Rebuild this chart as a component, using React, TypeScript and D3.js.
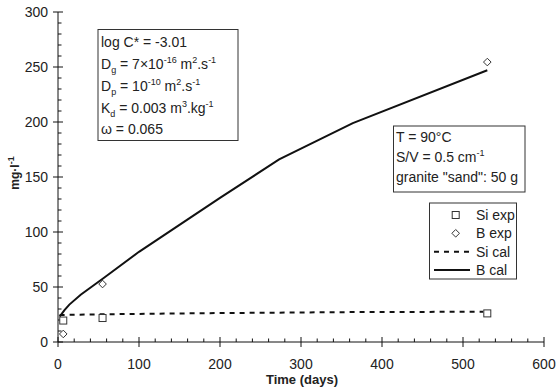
import React from "react";
import * as d3 from "d3";

const xTicks = [0, 100, 200, 300, 400, 500, 600];
const yTicks = [0, 50, 100, 150, 200, 250, 300];

const siExpX = [6.5, 55, 530];
const siExpY = [19.5, 21.8, 26];
const bExpX = [6.5, 55, 530];
const bExpY = [7.3, 52.7, 254.5];

const siCalX = [2, 56, 182, 364, 525];
const siCalY = [24.5, 25.2, 26.2, 27.2, 27.5];
const bCalX = [2, 8, 14, 28, 56, 100, 200, 273, 364, 530];
const bCalY = [23, 29, 34, 43, 58, 82, 131, 166, 199, 247];

const legendLabels = ["Si exp", "B exp", "Si cal", "B cal"];

const W = 556, H = 388;
const FONT = "'Liberation Sans', Arial, sans-serif";

export default function App() {
  const x = d3.scaleLinear().domain([0, 600]).range([58, 544]);
  const y = d3.scaleLinear().domain([0, 300]).range([342, 12]);
  const line = d3.line<[number, number]>().x(d => x(d[0])).y(d => y(d[1]));
  const xMinor = d3.range(0, 601, 20).filter(v => v % 100 !== 0);
  const yMinor = d3.range(0, 301, 10).filter(v => v % 50 !== 0);
  const bCal = bCalX.map((v, i) => [v, bCalY[i]] as [number, number]);
  const siCal = siCalX.map((v, i) => [v, siCalY[i]] as [number, number]);
  const txt = "#222";
  const square = (cx: number, cy: number, k: string) => (
    <rect key={k} x={cx - 3.5} y={cy - 3.5} width={7} height={7} fill="white" stroke="#333" strokeWidth={1} />
  );
  const diamond = (cx: number, cy: number, k: string) => (
    <path key={k} d={`M${cx},${cy - 3.8}L${cx + 3.8},${cy}L${cx},${cy + 3.8}L${cx - 3.8},${cy}Z`} fill="white" stroke="#333" strokeWidth={1} />
  );
  const sup = { fontSize: 9 } as const;
  return (
    <svg width={W} height={H} style={{ position: "absolute", left: 0, top: 0, background: "white" }} fontFamily={FONT}>
      <rect width={W} height={H} fill="white" />
      {/* axes */}
      <line x1={x(0)} x2={x(600)} y1={y(0)} y2={y(0)} stroke="#111" strokeWidth={1} />
      <line x1={x(0)} x2={x(0)} y1={y(0)} y2={y(300)} stroke="#111" strokeWidth={1} />
      {xTicks.map(t => (
        <g key={"xt" + t}>
          <line x1={x(t)} x2={x(t)} y1={y(0) - 5} y2={y(0) + 5} stroke="#111" />
          <text x={x(t)} y={y(0) + 27} textAnchor="middle" fontSize={14} fill={txt}>{t}</text>
        </g>
      ))}
      {xMinor.map(t => (
        <line key={"xm" + t} x1={x(t)} x2={x(t)} y1={y(0) - 3.5} y2={y(0)} stroke="#111" />
      ))}
      {yTicks.map(t => (
        <g key={"yt" + t}>
          <line x1={x(0) - 5} x2={x(0) + 5} y1={y(t)} y2={y(t)} stroke="#111" />
          <text x={48} y={y(t) + 5} textAnchor="end" fontSize={14} fill={txt}>{t}</text>
        </g>
      ))}
      {yMinor.map(t => (
        <line key={"ym" + t} x1={x(0)} x2={x(0) + 3.5} y1={y(t)} y2={y(t)} stroke="#111" />
      ))}
      <text x={302} y={384} textAnchor="middle" fontSize={13} fontWeight="bold" fill={txt}>Time (days)</text>
      <text transform={`translate(19,173) rotate(-90)`} textAnchor="middle" fontSize={12} fontWeight="bold" fill={txt}>
        mg·l<tspan dy={-5} style={sup}>-1</tspan>
      </text>

      {/* lines */}
      <path d={line(siCal) || ""} fill="none" stroke="#111" strokeWidth={2} strokeDasharray="5,5" />
      <path d={line(bCal) || ""} fill="none" stroke="#111" strokeWidth={2} />
      {siExpX.map((v, i) => square(x(v), y(siExpY[i]), "s" + i))}
      {bExpX.map((v, i) => diamond(x(v), y(bExpY[i]), "d" + i))}

      {/* parameter box */}
      <rect x={98} y={29.5} width={140} height={111} fill="white" stroke="#333" strokeWidth={1} />
      <g fontSize={14} fill={txt}>
        <text x={101} y={47}>log C* = -3.01</text>
        <text x={101} y={69}>D<tspan dy={4} style={sup}>g</tspan><tspan dy={-4}> = 7×10</tspan><tspan dy={-6} style={sup}>-16</tspan><tspan dy={6}> m</tspan><tspan dy={-6} style={sup}>2</tspan><tspan dy={6}>.s</tspan><tspan dy={-6} style={sup}>-1</tspan></text>
        <text x={101} y={91}>D<tspan dy={4} style={sup}>p</tspan><tspan dy={-4}> = 10</tspan><tspan dy={-6} style={sup}>-10</tspan><tspan dy={6}> m</tspan><tspan dy={-6} style={sup}>2</tspan><tspan dy={6}>.s</tspan><tspan dy={-6} style={sup}>-1</tspan></text>
        <text x={101} y={113}>K<tspan dy={4} style={sup}>d</tspan><tspan dy={-4}> = 0.003 m</tspan><tspan dy={-6} style={sup}>3</tspan><tspan dy={6}>.kg</tspan><tspan dy={-6} style={sup}>-1</tspan></text>
        <text x={101} y={134}>ω = 0.065</text>
      </g>

      {/* conditions box */}
      <rect x={393.5} y={126} width={131.5} height={66} fill="white" stroke="#333" strokeWidth={1} />
      <g fontSize={14} fill={txt}>
        <text x={396} y={142}>T = 90°C</text>
        <text x={396} y={162}>S/V = 0.5 cm<tspan dy={-6} style={sup}>-1</tspan></text>
        <text x={396} y={182}>granite "sand": 50 g</text>
      </g>

      {/* legend */}
      <rect x={429.5} y={203} width={87} height={76} fill="white" stroke="#333" strokeWidth={1} />
      {square(455.7, 215, "ls")}
      {diamond(455.7, 233.3, "ld")}
      <line x1={434} x2={470} y1={251.7} y2={251.7} stroke="#111" strokeWidth={2} strokeDasharray="5,5" />
      <line x1={434} x2={470} y1={270} y2={270} stroke="#111" strokeWidth={2} />
      {legendLabels.map((l, i) => (
        <text key={l} x={476} y={[215, 233.3, 251.7, 270][i] + 5} fontSize={14} fill={txt}>{l}</text>
      ))}
    </svg>
  );
}
